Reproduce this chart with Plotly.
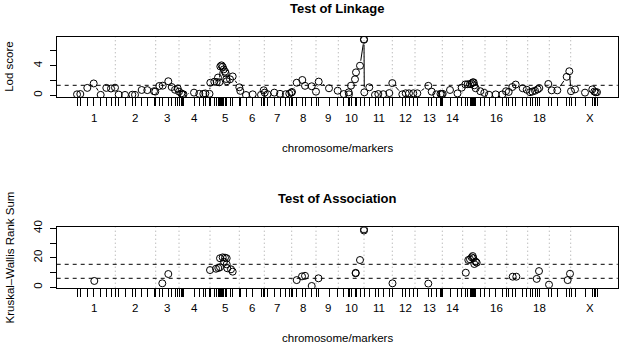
import math
import plotly.graph_objects as go

# ---------------- data (genome position in plot units) ----------------
marker_pos = [
    77.0, 80.3, 87.3, 93.7, 100.7, 106.3, 111.0, 115.0,
    118.7, 125.0, 132.3, 135.0, 141.7, 147.3, 154.0, 155.3,
    159.3, 162.7, 168.3, 171.7, 175.0, 177.7, 179.0, 181.3, 182.5, 183.5,
    194.0, 199.3, 203.3, 205.3, 209.5,
    210.3, 214.3, 216.7, 218.0, 219.3, 220.3, 221.5, 222.7, 223.7, 225.0, 225.7, 226.3, 226.8, 230.0, 232.7,
    239.3, 240.3, 246.0, 252.7, 261.0, 263.7, 264.7, 267.5,
    274.3, 280.0, 285.8, 289.3, 291.3, 292.0,
    296.7, 302.3, 305.0, 311.7, 316.0, 318.7,
    329.0, 337.7,
    343.7, 348.7, 349.0, 351.0, 355.0, 356.0, 360.0, 364.0, 364.0,
    364.3, 369.3, 375.0, 378.3, 383.3, 389.3,
    392.3, 402.3, 405.7, 409.0, 413.3, 417.3,
    428.3, 431.7, 436.3, 440.5, 441.7, 442.7,
    450.0, 457.5, 461.7,
    465.3, 467.7, 470.0, 471.7, 472.7, 473.7, 474.3, 475.7, 480.3, 484.3,
    489.0, 495.7, 502.3, 506.0,
    508.7, 512.3, 515.7, 522.7, 526.7, 530.0, 532.3, 535.0, 537.7, 539.3,
    548.3, 551.7, 557.3, 566.7, 569.3, 571.0,
    575.0, 585.0, 592.3, 594.3, 595.7, 597.0,
]
lod = [
    0.13, 0.17, 1.0, 1.6, 0.06, 1.0, 0.92, 1.03,
    0.10, 0.05, 0.08, 0.06, 0.72, 0.70, 0.55, 0.50,
    1.26, 1.30, 1.90, 1.12, 0.75, 0.92, 0.50, 0.25, 0.13, 0.13,
    0.36, 0.20, 0.20, 0.25, 0.20,
    1.70, 1.84, 1.80, 2.40, 1.75, 3.90, 4.05, 3.85, 3.50, 3.20, 2.97, 2.20, 1.90, 2.16, 2.55,
    1.08, 0.60, 0.04, 0.13, 0.06, 0.68, 0.36, 0.15,
    0.36, 0.20, 0.15, 0.22, 0.36, 0.45,
    1.70, 2.07, 1.28, 1.22, 0.49, 1.85,
    0.95, 0.62,
    0.17, 0.40, 0.13, 1.30, 2.16, 3.10, 4.00, 7.57, 7.50,
    0.40, 1.08, 0.06, 0.17, 0.15, 0.30,
    1.65, 0.13, 0.27, 0.27, 0.27, 0.27,
    1.28, 0.49, 0.13, 0.20, 0.15, 0.20,
    0.72, 0.25, 1.03,
    1.47, 1.50, 1.50, 1.60, 1.75, 1.75, 1.35, 0.95, 0.55, 0.33,
    0.08, 0.12, 0.12, 0.55,
    0.45, 1.12, 1.45, 0.95, 0.75, 0.42, 0.50, 0.62, 0.80, 0.98,
    1.53, 0.67, 0.67, 2.50, 3.25, 0.55,
    0.80, 0.36, 0.80, 0.50, 0.40, 0.42,
]

assoc_pos = [94.3, 162.3, 168.3, 210.0, 216.0, 218.3, 220.0, 220.0, 222.7, 225.0, 226.7, 224.0,
             226.7, 227.3, 231.0, 232.7, 296.7, 302.0, 305.0, 311.7, 318.5, 355.7, 355.7, 360.0,
             364.0, 364.0, 392.5, 428.3, 465.8, 468.3, 470.0, 471.7, 472.7, 473.3, 474.3, 475.7,
             476.7, 512.7, 516.3, 536.7, 539.0, 549.0, 567.7, 570.0]
kw = [4.3, 2.7, 9.0, 11.7, 12.6, 13.1, 13.6, 19.7, 20.3, 20.1, 19.7, 17.4,
      15.6, 12.9, 12.2, 10.6, 4.9, 7.4, 7.8, 0.9, 6.1, 9.5, 9.8, 18.5,
      38.5, 39.3, 2.7, 2.5, 9.9, 18.5, 19.0, 20.3, 21.2, 19.7, 15.8, 17.4,
      16.7, 7.2, 7.2, 5.7, 11.0, 1.8, 4.9, 9.2]

chrom_bounds = [115.3, 155.7, 179.0, 210.0, 239.3, 264.3, 291.7, 316.0, 338.3, 364.0,
                392.3, 415.0, 442.3, 462.7, 485.0, 506.7, 527.7, 549.3, 570.7]
chrom_labels = ["1", "2", "3", "4", "5", "6", "7", "8", "9", "10", "11", "12", "13", "14",
                "16", "18", "X"]
chrom_label_pos = [94.3, 135.0, 167.3, 194.3, 225.0, 251.7, 277.3, 303.3, 328.3, 351.7,
                   379.0, 405.0, 429.0, 452.3, 496.7, 539.0, 590.0]

lod_threshold = [1.35]
kw_thresholds = [6.1, 15.6]

lod_ticks = [0, 2, 4, 6]
lod_ticktext = ["0", "", "4", ""]
kw_ticks = [0, 10, 20, 30, 40]
kw_ticktext = ["0", "", "20", "", "40"]

# ---------------- layout geometry ----------------
W, H = 621, 345
PX_L, PX_R = 56.7, 617.7
TOP_T, TOP_B = 36.7, 97.3
BOT_T, BOT_B = 227.3, 287.7
X_RANGE = [PX_L, PX_R]
TOP_YLIM = [-0.27, 7.92]
BOT_YLIM = [-0.27, 40.7]

FONT = "Liberation Sans, Arial, Helvetica, sans-serif"
INK = "#000000"

xdom = [PX_L / W, PX_R / W]
top_dom = [1 - TOP_B / H, 1 - TOP_T / H]
bot_dom = [1 - BOT_B / H, 1 - BOT_T / H]

# ---------------- R-style type="b" line segments (gapped around points) ----------------
sx = (PX_R - PX_L) / (X_RANGE[1] - X_RANGE[0])
sy = (TOP_B - TOP_T) / (TOP_YLIM[1] - TOP_YLIM[0])
gap = 5.0
seg_x, seg_y = [], []
for i in range(len(marker_pos) - 1):
    x0, y0, x1, y1 = marker_pos[i], lod[i], marker_pos[i + 1], lod[i + 1]
    d = math.hypot((x1 - x0) * sx, (y1 - y0) * sy)
    if d > 2 * gap:
        f = gap / d
        seg_x += [x0 + f * (x1 - x0), x1 - f * (x1 - x0), None]
        seg_y += [y0 + f * (y1 - y0), y1 - f * (y1 - y0), None]

fig = go.Figure()
fig.add_trace(go.Scatter(x=seg_x, y=seg_y, mode="lines", line=dict(color=INK, width=1),
                         xaxis="x", yaxis="y", hoverinfo="skip", showlegend=False))
fig.add_trace(go.Scatter(x=marker_pos, y=lod, mode="markers",
                         marker=dict(symbol="circle-open", size=7, color=INK, line=dict(width=1)),
                         xaxis="x", yaxis="y", showlegend=False))
fig.add_trace(go.Scatter(x=assoc_pos, y=kw, mode="markers",
                         marker=dict(symbol="circle-open", size=7, color=INK, line=dict(width=1)),
                         xaxis="x2", yaxis="y2", showlegend=False))

shapes = []
for xr, yr in (("x", "y"), ("x2", "y2")):
    for b in chrom_bounds:
        shapes.append(dict(type="line", xref=xr, yref=yr + " domain", x0=b, x1=b, y0=0, y1=1,
                           line=dict(color="#a0a0a0", width=1, dash="1px,3px"), layer="below"))
for t in lod_threshold:
    shapes.append(dict(type="line", xref="x domain", yref="y", x0=0, x1=1, y0=t, y1=t,
                       line=dict(color=INK, width=1, dash="4px,4px")))
for t in kw_thresholds:
    shapes.append(dict(type="line", xref="x2 domain", yref="y2", x0=0, x1=1, y0=t, y1=t,
                       line=dict(color=INK, width=1, dash="4px,4px")))

def xax(anchor):
    return dict(domain=xdom, range=X_RANGE, anchor=anchor, showgrid=False, zeroline=False,
                showline=True, mirror=True, linecolor=INK, linewidth=1, automargin=False,
                ticks="outside", tickvals=marker_pos, ticktext=[""] * len(marker_pos),
                ticklen=8, tickwidth=1, tickcolor=INK, fixedrange=True)

def yax(anchor, dom, rng, tv, tt):
    return dict(domain=dom, range=rng, anchor=anchor, showgrid=False, zeroline=False,
                showline=True, mirror=True, linecolor=INK, linewidth=1, automargin=False,
                ticks="outside", tickvals=tv, ticktext=tt, ticklen=6, tickwidth=1,
                tickcolor=INK, tickangle=-90, ticklabelstandoff=3, fixedrange=True,
                tickfont=dict(family=FONT, size=11.5, color=INK))

ann = []
def text(x, y, s, size=11.5, bold=False, angle=0, xref="paper"):
    ann.append(dict(x=x, y=y, xref=xref, yref="paper", text=("<b>%s</b>" % s) if bold else s,
                    showarrow=False, xanchor="center", yanchor="middle", textangle=angle,
                    font=dict(family=FONT, size=size, color=INK)))

cx = (PX_L + PX_R) / 2 / W
text(cx, 1 - 8.3 / H, "Test of Linkage", size=13, bold=True)
text(cx, 1 - 198.3 / H, "Test of Association", size=13, bold=True)
text(cx, 1 - 147.7 / H, "chromosome/markers")
text(cx, 1 - 337.7 / H, "chromosome/markers")
text(9.0 / W, 1 - 66.8 / H, "Lod score", angle=-90)
text(9.0 / W, 1 - 257.5 / H, "Kruskal\u2013Wallis Rank Sum", angle=-90)
for p, lab in zip(chrom_label_pos, chrom_labels):
    text(p, 1 - 118.3 / H, lab, xref="x")
    text(p, 1 - 308.3 / H, lab, xref="x2")

fig.update_layout(
    width=W, height=H, margin=dict(l=0, r=0, t=0, b=0, pad=0, autoexpand=False),
    paper_bgcolor="white", plot_bgcolor="white",
    xaxis=xax("y"), yaxis=yax("x", top_dom, TOP_YLIM, lod_ticks, lod_ticktext),
    xaxis2=xax("y2"), yaxis2=yax("x2", bot_dom, BOT_YLIM, kw_ticks, kw_ticktext),
    shapes=shapes, annotations=ann, showlegend=False,
    font=dict(family=FONT, color=INK),
)
fig.write_html("out.html", config={"displayModeBar": False},
               post_script="document.body.style.margin='0px';")
